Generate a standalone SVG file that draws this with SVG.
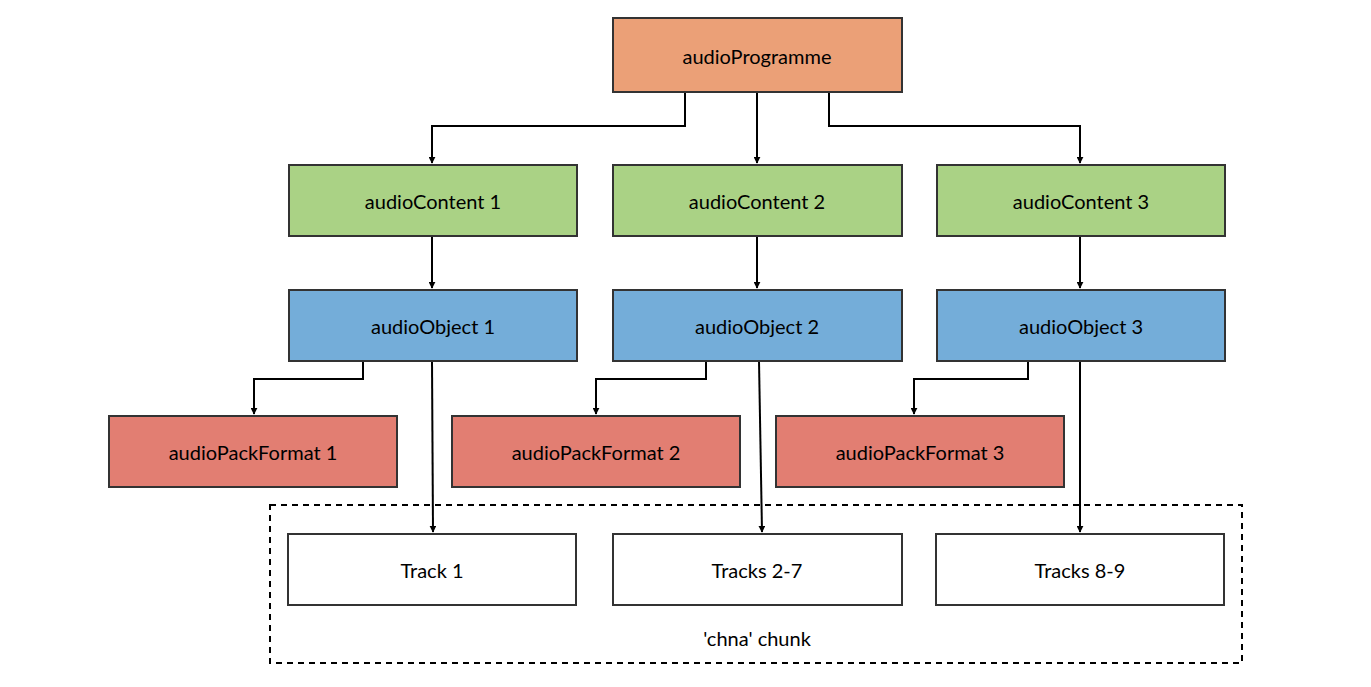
<svg xmlns="http://www.w3.org/2000/svg" width="1371" height="687" viewBox="0 0 1371 687">
<style>
.b{stroke:#333;stroke-width:2}
.p{fill:#EBA077}.c{fill:#AAD285}.o{fill:#74ADD9}.f{fill:#E27E72}.t{fill:#fff}
text{font-family:Lato,"Liberation Sans",sans-serif;font-size:20px;fill:#000;text-anchor:middle;dominant-baseline:central}
.e{fill:none;stroke:#000;stroke-width:2;marker-end:url(#a)}
</style>
<defs><marker id="a" viewBox="0 0 10 10" refX="9" refY="5" markerWidth="7" markerHeight="7" markerUnits="userSpaceOnUse" orient="auto"><path d="M0,0L10,5L0,10z" fill="#000"/></marker>
<marker id="a2" viewBox="0 0 12 12" refX="11" refY="6" markerWidth="12" markerHeight="12" markerUnits="userSpaceOnUse" orient="auto"><path d="M0,0L12,6L0,12" fill="#000"/></marker></defs>
<rect x="270" y="505" width="972" height="158" fill="none" stroke="#000" stroke-width="2" stroke-dasharray="6,5"/>
<text x="757" y="638">'chna' chunk</text>
<g id="connectors">
<path class="e" d="M685,92V126H432V163"/>
<path class="e" d="M757,92V163"/>
<path class="e" d="M829,92V126H1080V163"/>
<path class="e" d="M432,236V288"/>
<path class="e" d="M757,236V288"/>
<path class="e" d="M1080,236V288"/>
<path class="e" d="M363,361V379H254V414"/>
<path class="e" d="M432,361L433,532"/>
<path class="e" d="M706,361V379H596V414"/>
<path class="e" d="M759,361L762,532"/>
<path class="e" d="M1028,361V379H914V414"/>
<path class="e" d="M1080,361V532"/>
</g>
<g id="prog"><rect class="b p" x="613" y="18" width="289" height="74"/><text x="757" y="56">audioProgramme</text></g>
<g id="content1"><rect class="b c" x="289" y="165" width="288" height="71"/><text x="433" y="201">audioContent 1</text></g>
<g id="content2"><rect class="b c" x="613" y="165" width="289" height="71"/><text x="757" y="201">audioContent 2</text></g>
<g id="content3"><rect class="b c" x="937" y="165" width="288" height="71"/><text x="1081" y="201">audioContent 3</text></g>
<g id="object1"><rect class="b o" x="289" y="290" width="288" height="71"/><text x="433" y="326">audioObject 1</text></g>
<g id="object2"><rect class="b o" x="613" y="290" width="289" height="71"/><text x="757" y="326">audioObject 2</text></g>
<g id="object3"><rect class="b o" x="937" y="290" width="288" height="71"/><text x="1081" y="326">audioObject 3</text></g>
<g id="pack1"><rect class="b f" x="109" y="416" width="288" height="71"/><text x="253" y="452">audioPackFormat 1</text></g>
<g id="pack2"><rect class="b f" x="452" y="416" width="288" height="71"/><text x="596" y="452">audioPackFormat 2</text></g>
<g id="pack3"><rect class="b f" x="776" y="416" width="288" height="71"/><text x="920" y="452">audioPackFormat 3</text></g>
<g id="track1"><rect class="b t" x="288" y="534" width="288" height="71"/><text x="432" y="570">Track 1</text></g>
<g id="track2"><rect class="b t" x="613" y="534" width="289" height="71"/><text x="757" y="570">Tracks 2-7</text></g>
<g id="track3"><rect class="b t" x="936" y="534" width="288" height="71"/><text x="1080" y="570">Tracks 8-9</text></g>
</svg>
